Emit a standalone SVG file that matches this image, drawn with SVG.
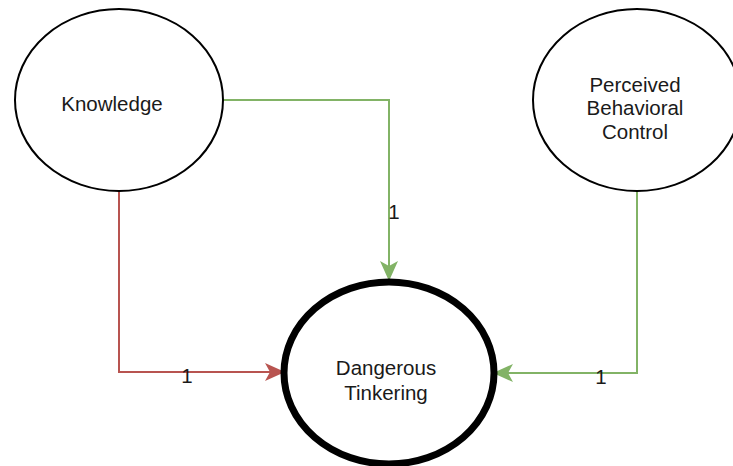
<svg xmlns="http://www.w3.org/2000/svg" width="733" height="466" viewBox="0 0 733 466">
  <style>
    .node { fill: #ffffff; stroke: #000000; stroke-width: 2; }
    .node.main { stroke-width: 7; }
    .lbl { font-family: "Liberation Sans", Arial, sans-serif; font-size: 20.5px; fill: #1a1a1a; text-anchor: middle; }
    .edge { fill: none; stroke-width: 2; }
    .red { stroke: #b85450; }
    .green { stroke: #82b366; }
  </style>
  <defs>
    <marker id="arrowRed" viewBox="0 0 20 18" refX="20" refY="9" markerWidth="20" markerHeight="18" markerUnits="userSpaceOnUse" orient="auto">
      <path d="M0,0 L20,9 L0,18 L5,9 Z" fill="#b85450"/>
    </marker>
    <marker id="arrowGreen" viewBox="0 0 20 18" refX="20" refY="9" markerWidth="20" markerHeight="18" markerUnits="userSpaceOnUse" orient="auto">
      <path d="M0,0 L20,9 L0,18 L5,9 Z" fill="#82b366"/>
    </marker>
  </defs>

  <g id="connectors">
    <path class="edge red" d="M119,191 V372 H285" marker-end="url(#arrowRed)"/>
    <path class="edge green" d="M223,100 H389 V281" marker-end="url(#arrowGreen)"/>
    <path class="edge green" d="M637,191 V373 H493" marker-end="url(#arrowGreen)"/>
    <text class="lbl" x="187" y="383">1</text>
    <text class="lbl" x="394" y="219">1</text>
    <text class="lbl" x="601" y="384">1</text>
  </g>

  <g id="knowledge">
    <ellipse class="node" cx="119" cy="100" rx="104" ry="91"/>
    <text class="lbl" x="112" y="111">Knowledge</text>
  </g>

  <g id="perceived-behavioral-control">
    <ellipse class="node" cx="637" cy="100" rx="104" ry="91"/>
    <text class="lbl" x="635" y="92">Perceived</text>
    <text class="lbl" x="635" y="115">Behavioral</text>
    <text class="lbl" x="635" y="139">Control</text>
  </g>

  <g id="dangerous-tinkering">
    <ellipse class="node main" cx="389" cy="373" rx="105" ry="91"/>
    <text class="lbl" x="386" y="375">Dangerous</text>
    <text class="lbl" x="386" y="400">Tinkering</text>
  </g>
</svg>
